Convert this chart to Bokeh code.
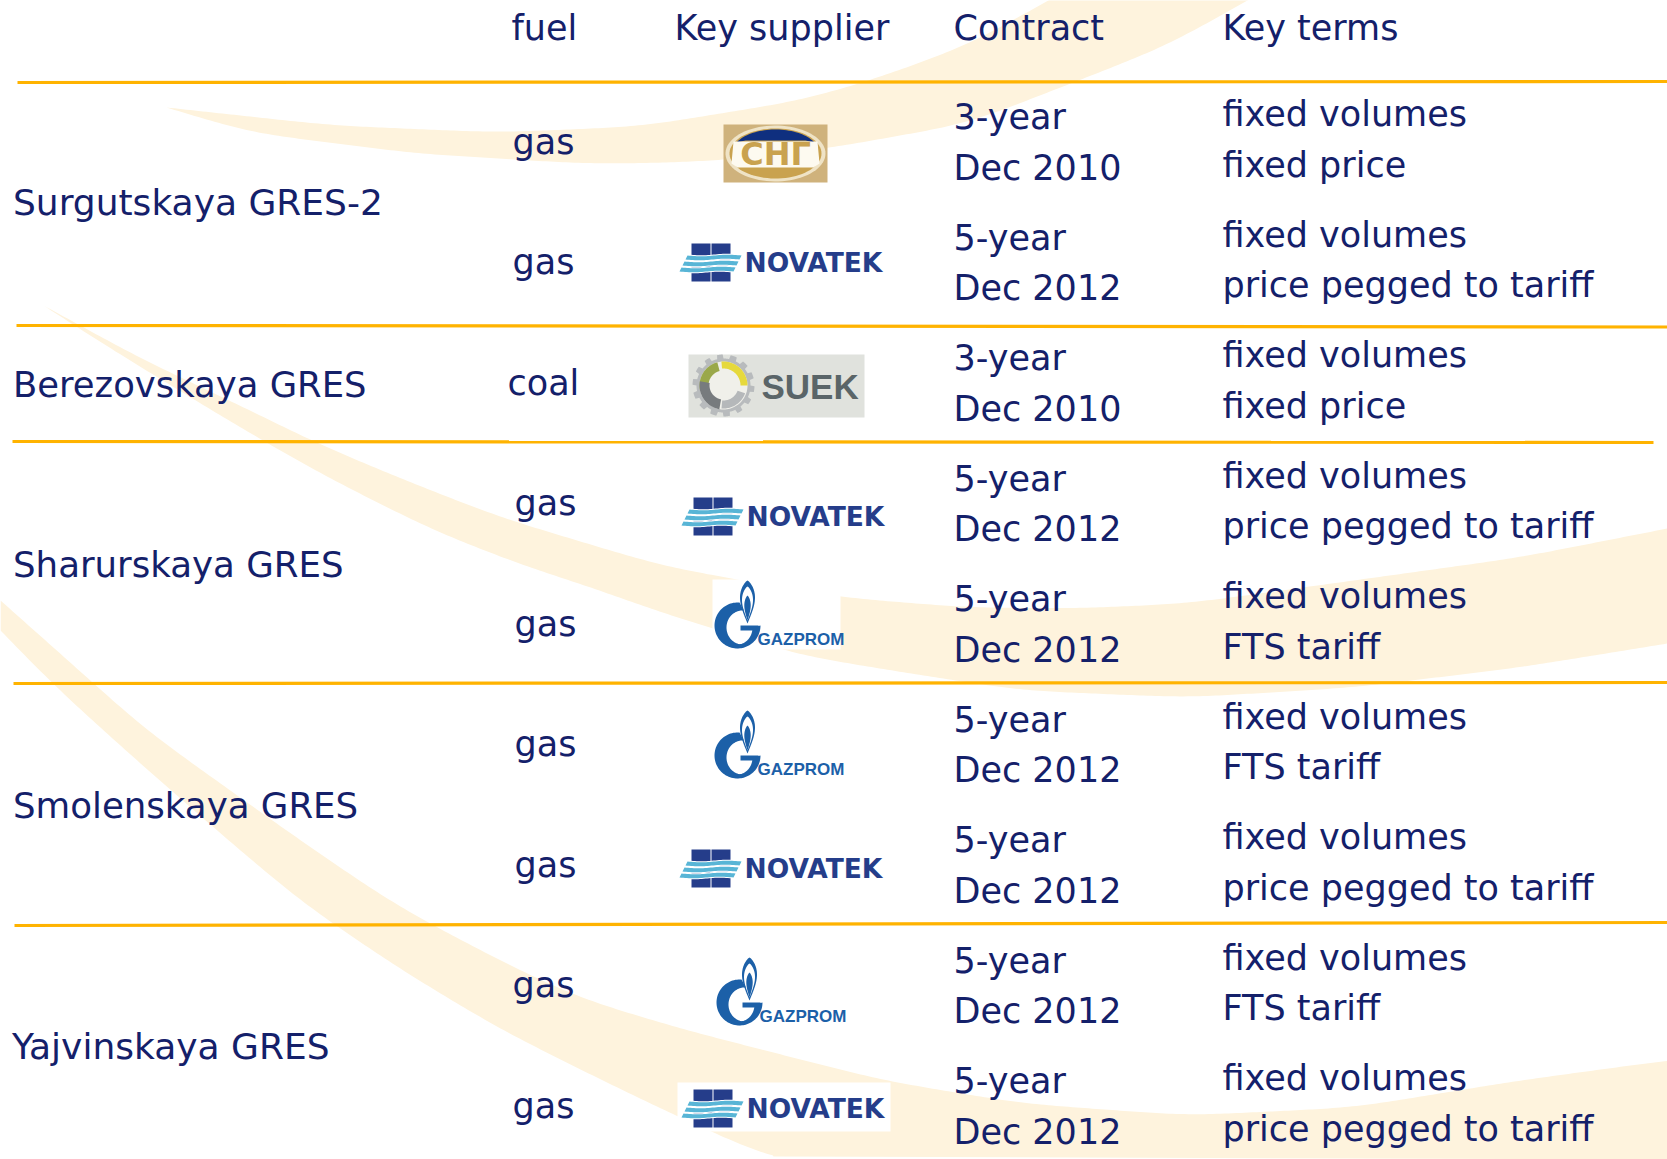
import numpy as np
from bokeh.plotting import figure
from bokeh.models import ColumnDataSource, Range1d
from bokeh.core.properties import value
from bokeh.embed import file_html
from bokeh.resources import INLINE

# ---------- table content ----------
headers = ["fuel", "Key supplier", "Contract", "Key terms"]
plants = ["Surgutskaya GRES-2", "Berezovskaya GRES", "Sharurskaya GRES", "Smolenskaya GRES", "Yajvinskaya GRES"]
fuels = ["gas", "gas", "coal", "gas", "gas", "gas", "gas", "gas", "gas"]
suppliers = ["SNG", "Novatek", "SUEK", "Novatek", "Gazprom", "Gazprom", "Novatek", "Gazprom", "Novatek"]
contract_lengths = ["3-year", "5-year", "3-year", "5-year", "5-year", "5-year", "5-year", "5-year", "5-year"]
contract_dates = ["Dec 2010", "Dec 2012", "Dec 2010", "Dec 2012", "Dec 2012", "Dec 2012", "Dec 2012", "Dec 2012", "Dec 2012"]
terms_first = ["fixed volumes"] * 9
terms_second = ["fixed price", "price pegged to tariff", "fixed price", "price pegged to tariff", "FTS tariff",
                "FTS tariff", "price pegged to tariff", "FTS tariff", "price pegged to tariff"]

# ---------- layout (page pixels of the slide) ----------
WIDTH, HEIGHT = 1667, 1159
ROW_PITCH = 120.45
header_x = [511, 674, 953, 1222]
HEADER_BASE = 40
plant_x = [12.5, 12.5, 12.5, 12.5, 11.5]
plant_base = [215, 397, 577, 818, 1059]
plant_size = [36, 35.4, 35.6, 35.6, 36]
fuel_x = [512, 512, 507, 514, 514, 514, 514, 512, 512]
FUEL_BASE = 154
CONTRACT_X, TERMS_X = 953, 1222
CONTRACT_BASE, TERMS_BASE, LINE_GAP = 129.5, 126.5, 50.5
BASELINE_FIX = 0.36  # em: the svg text glyph sits this far under the requested baseline
rules = [(17, 82, 1667, 81), (16, 325, 1667, 326.5), (12, 441, 1653, 442), (13, 683, 1667, 682), (14, 925, 1667, 922)]
logo_anchor = {0: (775, 153), 1: (745, 262), 2: (688, 354), 3: (747, 516), 4: (757, 648),
               5: (757, 778), 6: (745, 868), 7: (759, 1025), 8: (747, 1108)}

NAVY = "#14206a"
ORANGE = "#ffb300"
CREAM = "#fef3dd"
FONT = value("DejaVu Sans")

# decorative background swooshes, traced as outlines
swoosh_top = ([(166, 107), (332, 125), (497, 132), (640, 126), (800, 100), (870, 80), (967, 45), (1048, 0), (1100, -30)],
              [(1300, -30), (1247, 0), (1167, 45), (1073, 82), (967, 123), (827, 148), (721, 160), (640, 163), (580, 163),
               (415, 153), (249, 132), (166, 107)])
swoosh_mid = ([(43, 305), (107, 340), (140, 358), (250, 410), (310, 440), (400, 478), (500, 517), (600, 547),
               (660, 565), (730, 578), (841, 597), (966, 607), (1077, 608), (1187, 603), (1353, 580), (1519, 557), (1667, 528)],
              [(1667, 643), (1519, 667), (1353, 687), (1187, 697), (1021, 690), (910, 673), (800, 655), (710, 627),
               (660, 612), (600, 590), (517, 563), (433, 530), (333, 480), (267, 443), (200, 403), (113, 350), (43, 305)])
swoosh_low = ([(0, 600), (90, 680), (143, 728), (220, 783), (300, 840), (388, 900), (427, 922), (517, 969), (583, 999), (683, 1029),
               (800, 1059), (883, 1080), (1021, 1103), (1187, 1115), (1353, 1107), (1519, 1080), (1667, 1060)],
              [(773, 1159), (677, 1116), (600, 1079), (500, 1029), (400, 969), (300, 901), (213, 827), (133, 757), (50, 682), (0, 630)])


def smooth(points, sigma=28.0, step=4.0):
    """Resample a traced edge along x and soften the tracing jitter."""
    pts = np.array(sorted(points), float)
    rev = points[0][0] > points[-1][0]
    xs = np.arange(pts[0, 0], pts[-1, 0] + step, step)
    xs[-1] = pts[-1, 0]
    ys = np.interp(xs, pts[:, 0], pts[:, 1])
    pad = int(3 * sigma / step)
    kernel = np.exp(-0.5 * (np.arange(-pad, pad + 1) * step / sigma) ** 2)
    kernel /= kernel.sum()
    lead = ys[0] - (ys[1] - ys[0]) * np.arange(pad, 0, -1)
    tail = ys[-1] + (ys[-1] - ys[-2]) * np.arange(1, pad + 1)
    out = np.convolve(np.r_[lead, ys, tail], kernel, mode="valid")
    edge = np.c_[xs, out]
    return edge[::-1] if rev else edge


p = figure(width=WIDTH, height=HEIGHT, output_backend="svg", toolbar_location=None,
           x_range=Range1d(0, WIDTH), y_range=Range1d(HEIGHT, 0), min_border=0, outline_line_color=None)
p.axis.visible = False
p.grid.visible = False
p.background_fill_color = "white"
p.border_fill_color = "white"


def poly(xy, color, **kw):
    a = np.asarray(xy, float)
    p.patch(a[:, 0], a[:, 1], fill_color=color, line_color=None, **kw)


def box(x0, y0, x1, y1, color):
    poly([(x0, y0), (x1, y0), (x1, y1), (x0, y1)], color)


def ellipse(cx, cy, rx, ry, n=80):
    t = np.linspace(0, 2 * np.pi, n)
    return np.c_[cx + rx * np.cos(t), cy + ry * np.sin(t)]


def label(x, y, s, font, size, color, style="normal", align="left"):
    p.text([x], [y - BASELINE_FIX * size], text=[s], text_font=value(font), text_font_size=f"{size}px", text_color=color,
           text_font_style=style, text_align=align, text_baseline="alphabetic")


poly(np.vstack([smooth(swoosh_top[0]), smooth(swoosh_top[1])]), CREAM)
poly(np.vstack([smooth(swoosh_mid[0]), smooth(swoosh_mid[1])]), CREAM)
poly(np.vstack([smooth(swoosh_low[0]), [(1667, 1159)], smooth(swoosh_low[1])]), CREAM)

# white boxes that the pasted logos carry over the swoosh
box(712, 579, 840, 649, "white")
box(677, 1082, 890, 1131, "white")

for x0, y0, x1, y1 in rules:
    p.line([x0, x1], [y0, y1], line_color=ORANGE, line_width=3.2)


def logo_sng(cx, cy):
    box(cx - 52, cy - 29, cx + 52, cy + 29, "#cfb27c")
    poly(ellipse(cx, cy, 50, 28), "#efe3c6")
    poly(ellipse(cx, cy, 46, 25), "#c9a24f")
    t = np.linspace(np.pi * 1.15, np.pi * 1.85, 40)
    cap = np.c_[cx + 44 * np.cos(t), cy + 24 * np.sin(t)]
    poly(np.vstack([cap, [(cx + 30, cy - 13), (cx - 30, cy - 13)]]), "#0f2f7f")
    band = [(cx - 42, cy - 12), (cx + 42, cy - 12), (cx + 44, cy + 10), (cx + 38, cy + 14), (cx - 38, cy + 14), (cx - 44, cy + 10)]
    poly(band, "#fdfaf0")
    label(cx, cy + 12, "СНГ", "DejaVu Sans", 32, "#c9a24f", "bold", "center")


def logo_novatek(ax, ay):
    blue = "#253d8a"
    for dx in (-54, -34):
        box(ax + dx, ay - 19, ax + dx + 19, ay - 3, blue)
        box(ax + dx, ay + 3, ax + dx + 19, ay + 19, blue)
    xs = np.linspace(0, 1, 30)
    for (y0, h, shift) in ((-7, 4, 3), (-1, 4, 0), (5, 4, -3)):
        x = ax - 61 + shift + xs * 54
        wave = 0.8 * np.sin(xs * 2 * np.pi)
        top = np.c_[x, ay + y0 + wave]
        bot = np.c_[x[::-1] - 2, ay + y0 + h + wave[::-1]]
        poly(np.vstack([np.c_[x, ay + y0 - 1 + wave], np.c_[x[::-1] - 2, ay + y0 + h + 1 + wave[::-1]]]), "white")
        poly(np.vstack([top, bot]), "#58b5d6")
    label(ax - 1, ay + 10, "NOVATEK", "DejaVu Sans", 26.5, blue, "bold")


def logo_suek(x0, y0):
    box(x0, y0, x0 + 176, y0 + 63, "#e0e2dd")
    cx, cy = x0 + 35, y0 + 31
    t = np.linspace(0, 2 * np.pi, 241)
    r = 27 + 4 * (np.sin(t * 14) > 0)
    poly(np.c_[cx + r * np.cos(t), cy + r * np.sin(t)], "#b8bbbd")
    poly(ellipse(cx, cy, 24, 24), "#f0f0ea")

    def arc(a0, a1, r0, r1, color):
        a = np.radians(np.linspace(a0, a1, 30))
        poly(np.vstack([np.c_[cx + r0 * np.cos(a), cy + r0 * np.sin(a)],
                        np.c_[cx + r1 * np.cos(a[::-1]), cy + r1 * np.sin(a[::-1])]]), color)
    arc(-95, 0, 17, 24, "#e6d93c")
    arc(-190, -105, 15, 24, "#9aa84a")
    arc(100, 190, 14, 24, "#777b7e")
    arc(20, 95, 15, 23, "#b5b8ba")
    label(x0 + 73, y0 + 45, "SUEK", "Liberation Sans", 35, "#5a6568", "bold")


def logo_gazprom(ax, ay):
    blue = "#1c60a8"
    # flame: outer drop, white ring, inner flame
    s = np.linspace(0, 1, 40)

    def drop(w, top, bottom):
        y = top + (bottom - top) * s
        half = w * np.sin(np.pi * s ** 0.75)
        return np.vstack([np.c_[ax - 10 - half, ay + y], np.c_[ax - 10 + half[::-1], ay + y[::-1]]])
    poly(drop(7.5, -68, -25), blue)
    poly(drop(5.5, -62, -28), "white")
    poly(drop(3.2, -53, -28), blue)
    # crescent of the G
    cx, cy = ax - 20, ay - 23
    a = np.radians(np.linspace(-85, -270, 50))
    a2 = np.radians(np.linspace(-270, -85, 50))
    outer = np.c_[cx + 23 * np.cos(a), cy + 23 * np.sin(a)]
    inner = np.c_[cx + 5 + 16 * np.cos(a2), cy + 2 + 17 * np.sin(a2)]
    poly(np.vstack([outer, inner]), blue)
    b = np.radians(np.linspace(90, 0, 30))
    b2 = np.radians(np.linspace(0, 90, 30))
    poly(np.vstack([np.c_[cx + 23 * np.cos(b), cy + 23 * np.sin(b)], np.c_[cx + 15 * np.cos(b2), cy + 2 + 17 * np.sin(b2)]]), blue)
    box(ax - 17, ay - 23, ax + 1, ay - 18, blue)
    label(ax, ay - 3, "GAZPROM", "Liberation Sans", 17, blue, "bold")


draw_logo = {"SNG": logo_sng, "Novatek": logo_novatek, "SUEK": logo_suek, "Gazprom": logo_gazprom}
for k, name in enumerate(suppliers):
    draw_logo[name](*logo_anchor[k])


def text_block(xs, ys, texts, size=35):
    src = ColumnDataSource(dict(x=xs, y=[v - BASELINE_FIX * size for v in ys], t=texts))
    p.text("x", "y", text="t", source=src, text_font=FONT, text_font_size=f"{size}px", text_color=NAVY,
           text_baseline="alphabetic", text_align="left")


rows = np.arange(len(fuels))
text_block(header_x, [HEADER_BASE] * len(headers), headers)
for x, y, name, size in zip(plant_x, plant_base, plants, plant_size):
    text_block([x], [y], [name], size=size)
text_block(fuel_x, list(FUEL_BASE + rows * ROW_PITCH), fuels)
text_block([CONTRACT_X] * 9, list(CONTRACT_BASE + rows * ROW_PITCH), contract_lengths)
text_block([CONTRACT_X] * 9, list(CONTRACT_BASE + LINE_GAP + rows * ROW_PITCH), contract_dates)
text_block([TERMS_X] * 9, list(TERMS_BASE + rows * ROW_PITCH), terms_first)
text_block([TERMS_X] * 9, list(TERMS_BASE + LINE_GAP + rows * ROW_PITCH), terms_second)

open("out.html", "w").write(file_html(p, INLINE))
